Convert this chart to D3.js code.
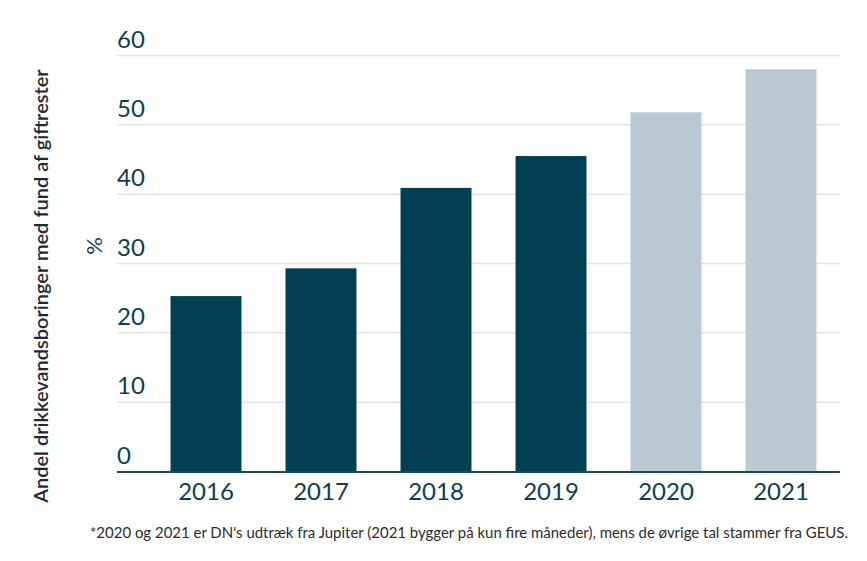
<!DOCTYPE html>
<html>
<head>
<meta charset="utf-8">
<script src="https://cdn.jsdelivr.net/npm/d3@7"></script>
<style>
  body { margin: 0; background: #fff; }
  svg { display: block; font-family: Lato, "Open Sans", sans-serif; }
</style>
</head>
<body>
<svg id="chart" width="867" height="561"></svg>
<script>
// Data
const years = ["2016", "2017", "2018", "2019", "2020", "2021"];
const shares = [25.3, 29.3, 40.9, 45.5, 51.8, 58.0];
const isJupiter = [false, false, false, false, true, true];
const yTicks = [0, 10, 20, 30, 40, 50, 60];

const yTitle = "Andel drikkevandsboringer med fund af giftrester";
const unitLabel = "%";
const footnote = "*2020 og 2021 er DN's udtræk fra Jupiter (2021 bygger på kun fire måneder), mens de øvrige tal stammer fra GEUS.";

const darkColor = "#033f53";
const lightColor = "#b8c9d3";
const textColor = "#0f3d50";

const svg = d3.select("#chart");

const x = d3.scaleBand()
  .domain(years)
  .range([148.5, 838.5])
  .paddingInner(0.383)
  .paddingOuter(0.383 / 2);

const y = d3.scaleLinear()
  .domain([0, 60])
  .range([471.5, 55.5]);

const gridLeft = 117, gridRight = 840;

// gridlines
svg.append("g")
  .selectAll("line")
  .data(yTicks.filter(d => d > 0))
  .join("line")
  .attr("x1", gridLeft)
  .attr("x2", gridRight)
  .attr("y1", d => y(d))
  .attr("y2", d => y(d))
  .attr("stroke", "#e2e4e6")
  .attr("stroke-width", 1.5);

// y tick labels sit above their gridline
svg.append("g")
  .selectAll("text")
  .data(yTicks)
  .join("text")
  .attr("x", gridLeft)
  .attr("y", d => y(d) - 8)
  .attr("fill", textColor)
  .style("font-size", "24px")
  .text(d => d);

// bars
svg.append("g")
  .selectAll("rect")
  .data(years)
  .join("rect")
  .attr("x", d => x(d))
  .attr("width", x.bandwidth())
  .attr("y", (d, i) => y(shares[i]))
  .attr("height", (d, i) => y(0) - y(shares[i]))
  .attr("fill", (d, i) => isJupiter[i] ? lightColor : darkColor);

// baseline
svg.append("line")
  .attr("x1", gridLeft)
  .attr("x2", gridRight)
  .attr("y1", y(0) + 0.5)
  .attr("y2", y(0) + 0.5)
  .attr("stroke", "#1d4a5b")
  .attr("stroke-width", 2);

// x axis labels
const xAxis = svg.append("g")
  .attr("transform", `translate(0,${y(0) + 1})`)
  .call(d3.axisBottom(x).tickSize(0).tickPadding(10));
xAxis.select(".domain").remove();
xAxis.selectAll("text")
  .attr("fill", textColor)
  .style("font-family", "Lato, sans-serif")
  .style("font-size", "24px");

// axis titles
svg.append("text")
  .attr("transform", "translate(48,286) rotate(-90)")
  .attr("text-anchor", "middle")
  .attr("fill", "#1f2a30")
  .style("font-size", "20px")
  .style("font-weight", 600)
  .text(yTitle);

svg.append("text")
  .attr("transform", "translate(102,246) rotate(-90)")
  .attr("text-anchor", "middle")
  .attr("fill", textColor)
  .style("font-size", "22px")
  .text(unitLabel);

// footnote
svg.append("text")
  .attr("x", 848)
  .attr("y", 538)
  .attr("text-anchor", "end")
  .attr("fill", "#2b2b2b")
  .attr("textLength", 758)
  .attr("lengthAdjust", "spacingAndGlyphs")
  .style("font-size", "14.5px")
  .text(footnote);
</script>
</body>
</html>
